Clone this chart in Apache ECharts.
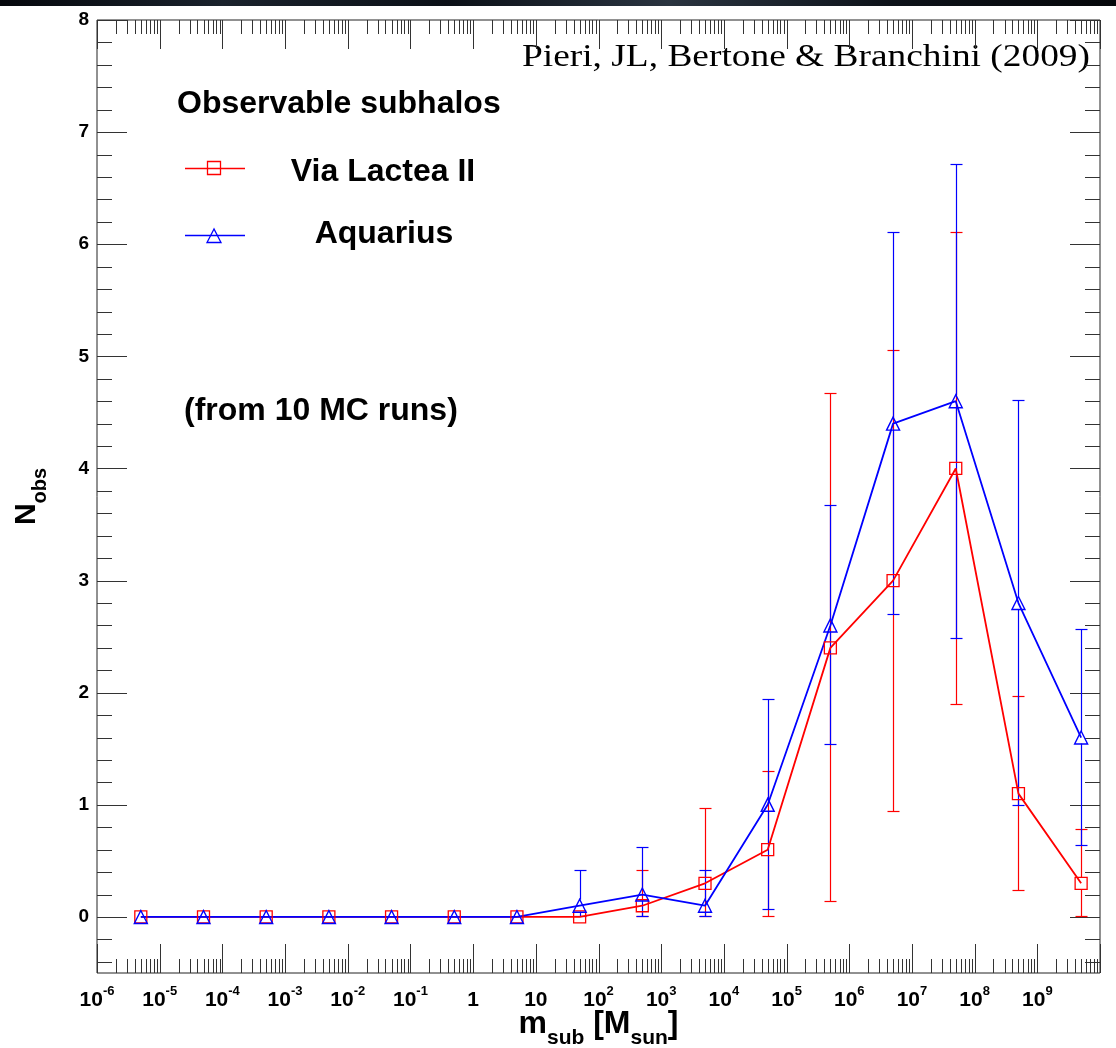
<!DOCTYPE html>
<html>
<head>
<meta charset="utf-8">
<script src="https://cdn.jsdelivr.net/npm/echarts@6/dist/echarts.min.js"></script>
<style>
html,body{margin:0;padding:0;background:#fff;}
#c{width:1116px;height:1048px;}
</style>
</head>
<body>
<div id="c"></div>
<script>
// ---------------- data ----------------
const masses = [5e-6, 5e-5, 5e-4, 5e-3, 5e-2, 5e-1, 5, 50, 500, 5e3, 5e4, 5e5, 5e6, 5e7, 5e8, 5e9];

const viaLactea      = [0, 0, 0, 0, 0, 0, 0, 0,    0.1,  0.3,  0.6,  2.4,  3.0,  4.0,  1.1,  0.3];
const viaLacteaUpper = [0, 0, 0, 0, 0, 0, 0, 0,    0.42, 0.97, 1.30, 4.67, 5.06, 6.11, 1.97, 0.78];
const viaLacteaLower = [0, 0, 0, 0, 0, 0, 0, 0,    0,    0,    0,    0.13, 0.94, 1.89, 0.23, 0];

const aquarius      = [0, 0, 0, 0, 0, 0, 0, 0.1,  0.2,  0.1,  1.0,  2.6,  4.4,  4.6,  2.8,  1.6];
const aquariusUpper = [0, 0, 0, 0, 0, 0, 0, 0.42, 0.62, 0.42, 1.94, 3.67, 6.11, 6.72, 4.61, 2.57];
const aquariusLower = [0, 0, 0, 0, 0, 0, 0, 0,    0,    0,    0.06, 1.53, 2.69, 2.48, 0.99, 0.63];

// axis ticks (decade exponents for the log mass axis, integer labels for N_obs)
const xDecades = [-6, -5, -4, -3, -2, -1, 0, 1, 2, 3, 4, 5, 6, 7, 8, 9, 10];
const xMinorMultipliers = [2, 3, 4, 5, 6, 7, 8, 9];
const yMajorTicks = [0, 1, 2, 3, 4, 5, 6, 7, 8];
const yMinorStep = 0.2;

const legendTitle = 'Observable subhalos';
const seriesNames = ['Via Lactea II', 'Aquarius'];
const noteText = '(from 10 MC runs)';
const creditText = 'Pieri, JL, Bertone & Branchini (2009)';

// ---------------- build ----------------
const SANS = '"Liberation Sans", Arial, Helvetica, sans-serif';
const SERIF = '"Liberation Serif", "Times New Roman", serif';
const RED = '#ff0000', BLUE = '#0000ff';

const lg = Math.log10;

// tick items: [x, y, kind]  kind 0 = x major, 1 = x minor, 2 = y major, 3 = y minor
const tickData = [];
xDecades.forEach(d => tickData.push([d, 0, 0]));
xDecades.slice(0, -1).forEach(d => xMinorMultipliers.forEach(k => tickData.push([d + lg(k), 0, 1])));
yMajorTicks.forEach(v => tickData.push([0, v, 2]));
for (let i = -2; i < 40; i++) { if (i % 5 !== 0) tickData.push([0, +(i * yMinorStep).toFixed(2), 3]); }

function tickRender(params, api) {
  const cs = params.coordSys;
  const kind = api.value(2);
  const st = { stroke: '#333', lineWidth: 1 };
  if (kind < 2) {
    const px = Math.round(api.coord([api.value(0), 0])[0]) + 0.5;
    const len = kind === 0 ? 29 : 14;
    const yb = cs.y + cs.height, yt = cs.y;
    return { type: 'group', children: [
      { type: 'line', shape: { x1: px, y1: yb, x2: px, y2: yb - len }, style: st },
      { type: 'line', shape: { x1: px, y1: yt, x2: px, y2: yt + len }, style: st }
    ]};
  } else {
    const py = Math.round(api.coord([0, api.value(1)])[1]) + 0.5;
    const len = kind === 2 ? 30 : 15;
    const xl = cs.x, xr = cs.x + cs.width;
    return { type: 'group', children: [
      { type: 'line', shape: { x1: xl, y1: py, x2: xl + len, y2: py }, style: st },
      { type: 'line', shape: { x1: xr, y1: py, x2: xr - len, y2: py }, style: st }
    ]};
  }
}

function errData(vals, lo, hi) {
  const out = [];
  masses.forEach((m, i) => { if (hi[i] > vals[i] || lo[i] < vals[i]) out.push([lg(m), vals[i], lo[i], hi[i]]); });
  return out;
}

function errRender(color, gap) {
  return function (params, api) {
    const x = api.value(0), v = api.value(1), lo = api.value(2), hi = api.value(3);
    const p = api.coord([x, v]), pu = api.coord([x, hi]), pl = api.coord([x, lo]);
    const cx = Math.round(p[0]) + 0.5;
    const st = { stroke: color, lineWidth: 1.2 };
    const ch = [];
    if (hi > v) {
      const yu = Math.round(pu[1]) + 0.5;
      if (p[1] - gap > yu) ch.push({ type: 'line', shape: { x1: cx, y1: p[1] - gap, x2: cx, y2: yu }, style: st });
      ch.push({ type: 'line', shape: { x1: cx - 6, y1: yu, x2: cx + 6, y2: yu }, style: st });
    }
    if (lo < v) {
      const yl = Math.round(pl[1]) - 0.5;
      if (p[1] + gap < yl) ch.push({ type: 'line', shape: { x1: cx, y1: p[1] + gap, x2: cx, y2: yl }, style: st });
      ch.push({ type: 'line', shape: { x1: cx - 6, y1: yl, x2: cx + 6, y2: yl }, style: st });
    }
    return { type: 'group', children: ch };
  };
}

function fmtX(v) {
  const e = Math.round(v);
  if (e === 10) return '';
  if (e === 0) return '{b|1}';
  if (e === 1) return '{b|10}';
  return '{b|10}{s|' + e + '}';
}

// credit text horizontal stretch to match reference width
const mctx = document.createElement('canvas').getContext('2d');
mctx.font = '32px ' + SERIF;
const creditScale = 568 / mctx.measureText(creditText).width;

const chart = echarts.init(document.getElementById('c'), null, { renderer: 'canvas', width: 1116, height: 1048 });

const option = {
  animation: false,
  backgroundColor: '#ffffff',
  textStyle: { fontFamily: SANS },
  grid: {
    left: 97, right: 16, top: 20, bottom: 75, show: true, borderColor: '#222', borderWidth: 1,
    backgroundColor: 'transparent', containLabel: false, outerBoundsMode: 'none'
  },
  xAxis: {
    type: 'value', min: -6, max: 10, interval: 1,
    axisLine: { show: false }, axisTick: { show: false }, splitLine: { show: false },
    axisLabel: {
      margin: 12, color: '#000', fontFamily: SANS, fontSize: 21, fontWeight: 'bold',
      formatter: fmtX,
      rich: {
        b: { fontSize: 21, fontWeight: 'bold', fontFamily: SANS, color: '#000', lineHeight: 31 },
        s: { fontSize: 13, fontWeight: 'bold', fontFamily: SANS, color: '#000', padding: [0, 0, 18, 0] }
      }
    },
    name: '{m|m}{s|sub}{m| [M}{s|sun}{m|]}',
    nameLocation: 'middle', nameGap: 26, nameMoveOverlap: false,
    nameTextStyle: {
      fontSize: 32, fontWeight: 'bold', color: '#000',
      rich: {
        m: { fontSize: 32, fontWeight: 'bold', fontFamily: SANS, color: '#000', lineHeight: 50 },
        s: { fontSize: 21, fontWeight: 'bold', fontFamily: SANS, color: '#000', padding: [28, 0, 0, 0] }
      }
    }
  },
  yAxis: {
    type: 'value', min: -0.5, max: 8, interval: 0.5,
    axisLine: { show: false }, axisTick: { show: false }, splitLine: { show: false },
    axisLabel: {
      margin: 8, color: '#000', fontFamily: SANS, fontSize: 19, fontWeight: 'bold',
      formatter: v => (Math.abs(v - Math.round(v)) < 1e-9 ? String(Math.round(v)) : '')
    },
    name: '{m|N}{s|obs}',
    nameLocation: 'middle', nameRotate: 90, nameGap: 47,
    nameTextStyle: {
      fontSize: 30, fontWeight: 'bold', color: '#000',
      rich: {
        m: { fontSize: 30, fontWeight: 'bold', fontFamily: SANS, color: '#000', lineHeight: 47 },
        s: { fontSize: 20, fontWeight: 'bold', fontFamily: SANS, color: '#000', padding: [27, 0, 0, 0] }
      }
    }
  },
  series: [
    {
      name: 'ticks', type: 'custom', silent: true, clip: false,
      encode: { x: 0, y: 1 }, data: tickData, renderItem: tickRender
    },
    {
      name: seriesNames[0] + ' errors', type: 'custom', silent: true, clip: false,
      encode: { x: 0, y: 1 }, data: errData(viaLactea, viaLacteaLower, viaLacteaUpper), renderItem: errRender(RED, 6)
    },
    {
      name: seriesNames[0], type: 'line', silent: true,
      data: masses.map((m, i) => [lg(m), viaLactea[i]]),
      symbol: 'rect', symbolSize: 12,
      lineStyle: { color: RED, width: 1.8 },
      itemStyle: { color: 'rgba(0,0,0,0)', borderColor: RED, borderWidth: 1.3 },
      emphasis: { disabled: true }
    },
    {
      name: seriesNames[1] + ' errors', type: 'custom', silent: true, clip: false,
      encode: { x: 0, y: 1 }, data: errData(aquarius, aquariusLower, aquariusUpper), renderItem: errRender(BLUE, 6)
    },
    {
      name: seriesNames[1], type: 'line', silent: true,
      data: masses.map((m, i) => [lg(m), aquarius[i]]),
      symbol: 'triangle', symbolSize: [13, 13],
      lineStyle: { color: BLUE, width: 1.8 },
      itemStyle: { color: 'rgba(0,0,0,0)', borderColor: BLUE, borderWidth: 1.4 },
      emphasis: { disabled: true }
    }
  ],
  graphic: [
    {
      type: 'rect', shape: { x: 0, y: 0, width: 1116, height: 6 }, silent: true,
      style: { fill: new echarts.graphic.LinearGradient(0, 0, 1, 0, [
        { offset: 0, color: '#06080d' }, { offset: 0.2, color: '#1a222c' }, { offset: 0.4, color: '#0b1017' },
        { offset: 0.6, color: '#2a3440' }, { offset: 0.8, color: '#0d1219' }, { offset: 1, color: '#05070a' }
      ]) }
    },
    { type: 'text', x: 522, y: 58, scaleX: creditScale, silent: true,
      style: { text: creditText, font: '32px ' + SERIF, fill: '#000', textAlign: 'left', textVerticalAlign: 'middle' } },
    { type: 'text', x: 177, y: 104, silent: true,
      style: { text: legendTitle, font: 'bold 32px ' + SANS, fill: '#000', textAlign: 'left', textVerticalAlign: 'middle' } },
    { type: 'line', silent: true, shape: { x1: 185, y1: 168.5, x2: 245, y2: 168.5 }, style: { stroke: RED, lineWidth: 1.3 } },
    { type: 'rect', silent: true, shape: { x: 207.5, y: 161.5, width: 13, height: 13 }, style: { stroke: RED, fill: 'none', lineWidth: 1.3 } },
    { type: 'text', x: 383, y: 172, silent: true,
      style: { text: seriesNames[0], font: 'bold 32px ' + SANS, fill: '#000', textAlign: 'center', textVerticalAlign: 'middle' } },
    { type: 'line', silent: true, shape: { x1: 185, y1: 235.5, x2: 245, y2: 235.5 }, style: { stroke: BLUE, lineWidth: 1.3 } },
    { type: 'polygon', silent: true, shape: { points: [[214, 229], [207, 242.5], [221, 242.5]] }, style: { stroke: BLUE, fill: 'none', lineWidth: 1.3 } },
    { type: 'text', x: 384, y: 234, silent: true,
      style: { text: seriesNames[1], font: 'bold 32px ' + SANS, fill: '#000', textAlign: 'center', textVerticalAlign: 'middle' } },
    { type: 'text', x: 184, y: 411, silent: true,
      style: { text: noteText, font: 'bold 32px ' + SANS, fill: '#000', textAlign: 'left', textVerticalAlign: 'middle' } }
  ]
};

chart.setOption(option);
</script>
</body>
</html>
